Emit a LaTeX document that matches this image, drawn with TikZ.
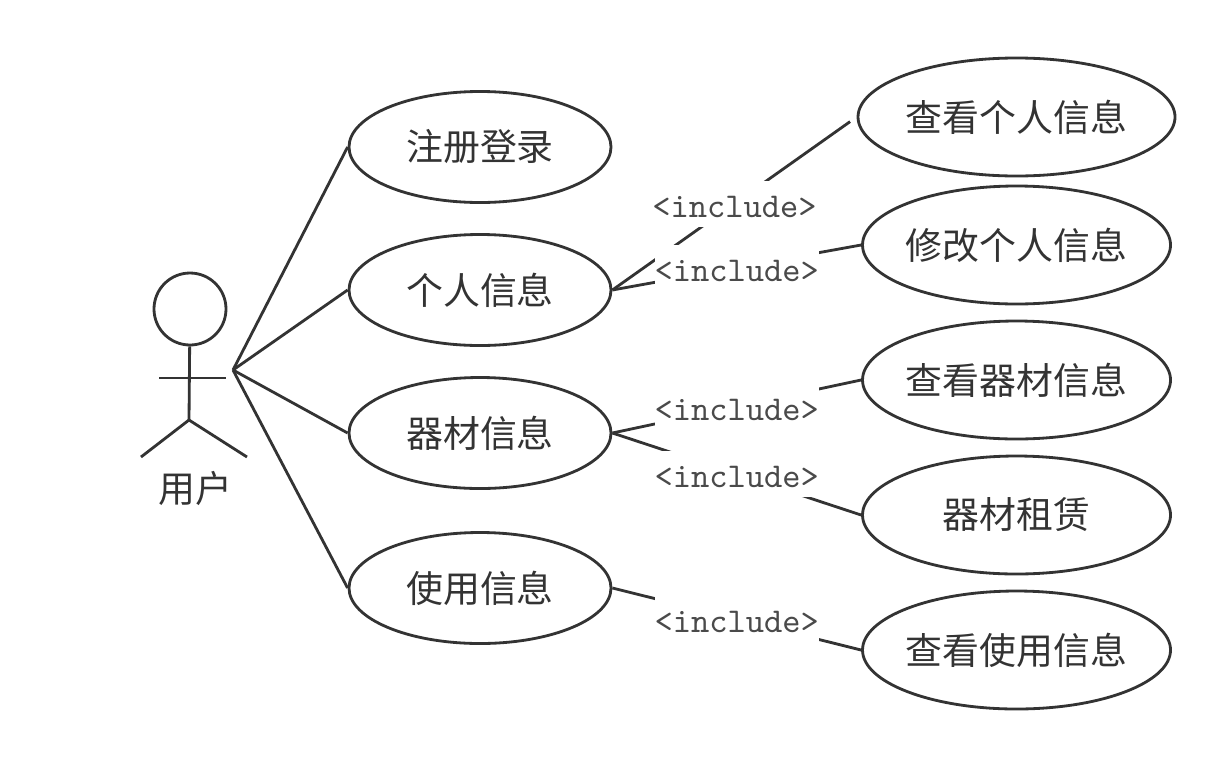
\documentclass[tikz,border=0pt]{standalone}
\usepackage{fontspec}
\setmainfont{Noto Sans CJK SC}
\usetikzlibrary{positioning, shapes.geometric}
\definecolor{cink}{HTML}{333333}
\definecolor{clabel}{HTML}{4A4A4A}
\tikzset{
  every picture/.style={line width=0.8pt, text=cink},
  usecase/.style={draw=cink, ellipse, font=\fontsize{10.5}{12}\selectfont, inner ysep=0pt, inner xsep=-0.04cm},
  small/.style={usecase, minimum width=2.62cm, minimum height=1.11cm},
  large/.style={usecase, minimum width=3.08cm, minimum height=1.18cm},
  link/.style={draw=cink},
  incl/.style={fill=white, inner sep=0pt, text height=0.365cm, text depth=0.095cm, text=clabel, font=\ttfamily\fontsize{9.9}{10}\selectfont},
}
\begin{document}
\begin{tikzpicture}
  \useasboundingbox (0,0) rectangle (12.31,-7.68);
  % the actor
  \node[circle, draw=cink, minimum size=0.72cm, inner sep=0pt] (head) at (1.90,-3.09) {};
  \coordinate (hip) at (1.89,-4.20);
  \coordinate (armL) at (1.59,-3.78);
  \coordinate (armR) at (2.26,-3.78);
  \coordinate (footL) at (1.41,-4.57);
  \coordinate (footR) at (2.47,-4.57);
  \coordinate (actor) at (2.33,-3.70);
  \draw[link] (head) -- (hip);
  \draw[link] (armL) -- (armR);
  \draw[link] (footL) -- (hip) -- (footR);
  \node[font=\fontsize{10.5}{12}\selectfont] (user) at (1.95,-4.88) {用户};
  % use cases next to the actor
  \node[small] (login) at (4.80,-1.47) {注册登录};
  \node[small] (person) at (4.80,-2.90) {个人信息};
  \node[small] (equip) at (4.80,-4.33) {器材信息};
  \node[small] (use) at (4.80,-5.88) {使用信息};
  % included use cases
  \node[large, minimum width=3.17cm] (viewperson) at (10.165,-1.17) {查看个人信息};
  \node[large] (editperson) at (10.165,-2.45) {修改个人信息};
  \node[large] (viewequip) at (10.165,-3.80) {查看器材信息};
  \node[large] (rent) at (10.165,-5.15) {器材租赁};
  \node[large] (viewuse) at (10.165,-6.50) {查看使用信息};
  % actor links
  \foreach \c in {login,person,equip,use} \draw[link] (actor) -- (\c.west);
  % include links
  \draw[link, shorten >=0.08cm] (person.east) -- (viewperson.west) node[incl, pos=0.5] (l1) {<include>};
  \draw[link] (person.east) -- (editperson.west) node[incl, pos=0.5] (l2) {<include>};
  \draw[link] (equip.east) -- (viewequip.west) node[incl, pos=0.5] (l3) {<include>};
  \draw[link] (equip.east) -- (rent.west) node[incl, pos=0.5] (l4) {<include>};
  \draw[link] (use.east) -- (viewuse.west) node[incl, pos=0.5] (l5) {<include>};
\end{tikzpicture}
\end{document}
